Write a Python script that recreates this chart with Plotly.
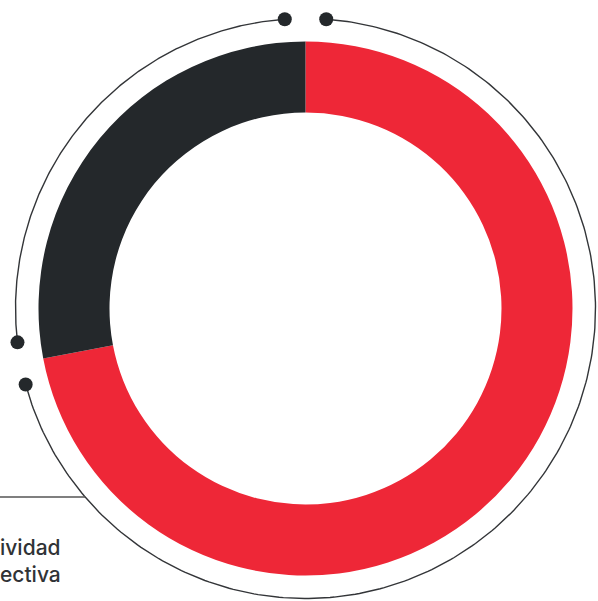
import numpy as np
import plotly.graph_objects as go

labels = ["Rojo", "Negro"]
values = [72, 28]
colors = ["#EE2737", "#24282B"]
text_lines = ["ividad", "ectiva"]

W, H = 598, 601
cx, cy = 305.5, 308.5
R_out = 267
R_in = 196
R_ring = 290

fig = go.Figure()

fig.add_trace(go.Pie(
    labels=labels, values=values, hole=R_in / R_out, sort=False,
    direction="clockwise", rotation=0,
    marker=dict(colors=colors, line=dict(width=0)),
    textinfo="none", hoverinfo="skip", showlegend=False,
    domain=dict(x=[(cx - R_out) / W, (cx + R_out) / W],
                y=[(H - cy - R_out) / H, (H - cy + R_out) / H]),
))

def arc(t0, t1, n=300):
    t = np.radians(np.linspace(t0, t1, n))
    return cx + R_ring * np.cos(t), cy - R_ring * np.sin(t)

# ring arcs (decoration)
ax1, ay1 = arc(85.9, -164.8)
ax2, ay2 = arc(94.1, 186.7)
for xs, ys in [(ax1, ay1), (ax2, ay2)]:
    fig.add_trace(go.Scatter(x=xs, y=ys, mode="lines",
                             line=dict(color="#333538", width=1.4),
                             hoverinfo="skip", showlegend=False))
# dots at arc ends
dx = [ax1[0], ax1[-1], ax2[0], ax2[-1]]
dy = [ay1[0], ay1[-1], ay2[0], ay2[-1]]
fig.add_trace(go.Scatter(x=dx, y=dy, mode="markers",
                         marker=dict(size=14, color="#24282B"),
                         hoverinfo="skip", showlegend=False))
# leader line
yl = 497
xl = cx - np.sqrt(R_ring**2 - (yl - cy)**2)
fig.add_trace(go.Scatter(x=[0, xl], y=[yl, yl], mode="lines",
                         line=dict(color="#555555", width=1.5),
                         hoverinfo="skip", showlegend=False))

fig.add_annotation(x=0, y=561, xref="x", yref="y", xanchor="left", yanchor="middle",
                   text="<br>".join(text_lines), showarrow=False, align="left",
                   xshift=-2,
                   font=dict(family="Inter", size=21, color="#303336", weight=500))

fig.update_layout(
    width=W, height=H, margin=dict(l=0, r=0, t=0, b=0),
    paper_bgcolor="white", plot_bgcolor="white",
    xaxis=dict(range=[0, W], visible=False, fixedrange=True),
    yaxis=dict(range=[H, 0], visible=False, fixedrange=True),
)
fig.write_html("out.html", config={"displayModeBar": False},
               post_script="document.body.style.margin='0';")
